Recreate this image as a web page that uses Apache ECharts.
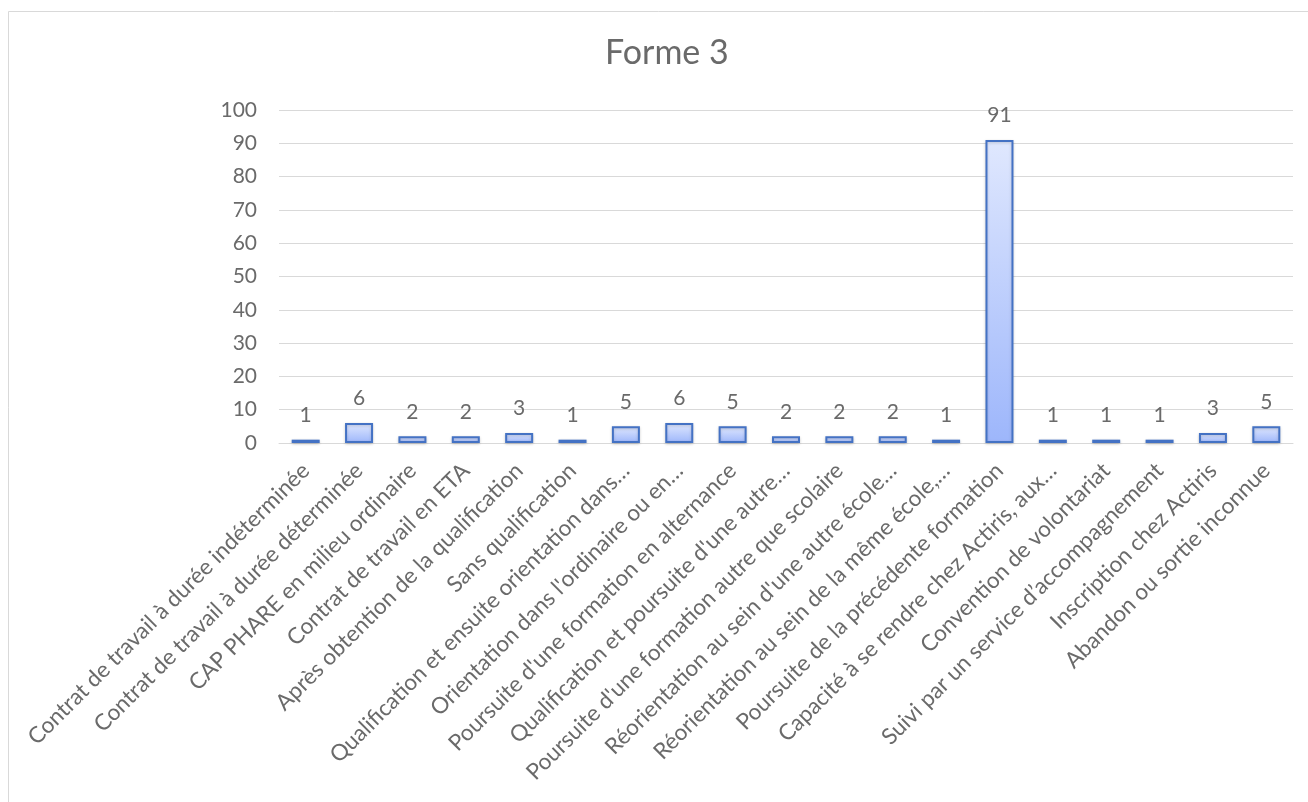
<!DOCTYPE html>
<html>
<head>
<meta charset="utf-8">
<script src="https://cdn.jsdelivr.net/npm/echarts@6/dist/echarts.min.js"></script>
<style>
  html, body { margin: 0; padding: 0; background: #fff; }
  #chart { width: 1308px; height: 802px; }
</style>
</head>
<body>
<div id="chart"></div>
<script>
// Parcours après la formation — effectifs par catégorie
const categories = [
  "Contrat de travail à durée indéterminée",
  "Contrat de travail à durée déterminée",
  "CAP PHARE en milieu ordinaire",
  "Contrat de travail en ETA",
  "Après obtention de la qualification",
  "Sans qualification",
  "Qualification et ensuite orientation dans…",
  "Orientation dans l'ordinaire ou en…",
  "Poursuite d'une formation en alternance",
  "Qualification et poursuite d'une autre…",
  "Poursuite d'une formation autre que scolaire",
  "Réorientation au sein d'une autre école…",
  "Réorientation au sein de la même école,…",
  "Poursuite de la précédente formation",
  "Capacité à se rendre chez Actiris, aux…",
  "Convention de volontariat",
  "Suivi par un service d’accompagnement",
  "Inscription chez Actiris",
  "Abandon ou sortie inconnue"
];
const values = [1, 6, 2, 2, 3, 1, 5, 6, 5, 2, 2, 2, 1, 91, 1, 1, 1, 3, 5];
const titleText = "Forme 3";

const textColor = "#6a6a6a";
const fontFamily = "Lato, 'Open Sans', sans-serif";

const chart = echarts.init(document.getElementById("chart"), null, { renderer: "canvas" });
chart.setOption({
  animation: false,
  backgroundColor: "#fff",
  title: {
    text: titleText,
    left: 600,
    top: 31,
    textStyle: { color: textColor, fontSize: 34, fontWeight: "normal", fontFamily: fontFamily }
  },
  graphic: [{
    type: "rect",
    shape: { x: 8.5, y: 11.5, width: 1320, height: 820 },
    style: { fill: "none", stroke: "#d9d9d9", lineWidth: 1 },
    silent: true,
    z: -1
  }],
  grid: { left: 279, right: 15, top: 110, bottom: 359, containLabel: false },
  xAxis: {
    type: "category",
    data: categories,
    axisLine: { show: true, lineStyle: { color: "#d9d9d9", width: 1 } },
    axisTick: { show: false },
    axisLabel: {
      interval: 0,
      rotate: 45,
      margin: 24,
      color: textColor,
      fontSize: 22.5,
      fontFamily: fontFamily
    }
  },
  yAxis: {
    type: "value",
    min: 0,
    max: 100,
    interval: 10,
    axisLine: { show: false },
    axisTick: { show: false },
    splitLine: { lineStyle: { color: "#d9d9d9", width: 1 } },
    axisLabel: { color: textColor, fontSize: 21, fontFamily: fontFamily, margin: 22 }
  },
  series: [{
    type: "bar",
    data: values,
    barWidth: 28,
    itemStyle: {
      color: new echarts.graphic.LinearGradient(0, 0, 0, 1, [
        { offset: 0, color: "#e0e8fe" },
        { offset: 1, color: "#9db6fb" }
      ]),
      borderColor: "#4472c4",
      borderWidth: 2,
      shadowColor: "rgba(0,0,0,0.18)",
      shadowBlur: 3,
      shadowOffsetY: 1
    },
    label: {
      show: true,
      position: "top",
      distance: 14,
      color: textColor,
      fontSize: 21,
      fontFamily: fontFamily
    }
  }]
});
</script>
</body>
</html>
